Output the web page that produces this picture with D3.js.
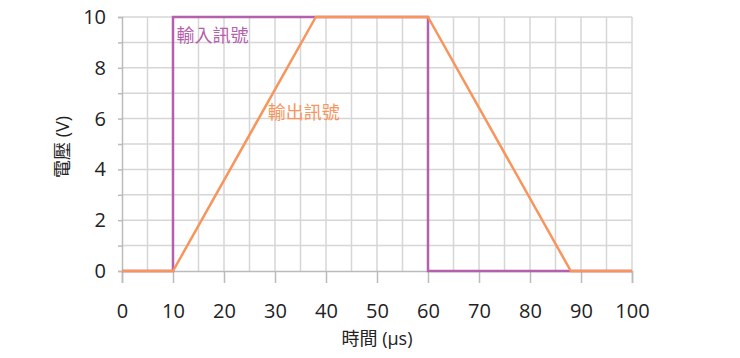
<!DOCTYPE html>
<html><head><meta charset="utf-8">
<script src="https://cdn.jsdelivr.net/npm/d3@7"></script>
<style>body{margin:0;background:#fff;}svg{display:block;}</style>
</head><body>
<svg id="c" width="740" height="358"></svg>
<script>
const inputX = [0, 10, 10, 60, 60, 100];
const inputY = [0, 0, 10, 10, 0, 0];
const outputX = [0, 10, 38, 60, 88, 100];
const outputY = [0, 0, 10, 10, 0, 0];
const xTicks = [0, 10, 20, 30, 40, 50, 60, 70, 80, 90, 100];
const yTicks = [0, 2, 4, 6, 8, 10];
const labels = ["輸入訊號", "輸出訊號"];
const xTitle = "時間 (µs)";
const yTitle = "電壓 (V)";

const svg = d3.select("#c");
const x = d3.scaleLinear().domain([0, 100]).range([122, 632]);
const y = d3.scaleLinear().domain([0, 10]).range([271, 17]);
const font = "'Open Sans','Noto Sans CJK TC',sans-serif";
const grid = "#d6d6d6";

// grid
const g = svg.append("g");
g.selectAll("line.v").data(d3.range(5, 101, 5)).join("line")
  .attr("x1", d => x(d)).attr("x2", d => x(d)).attr("y1", y(0)).attr("y2", y(10))
  .attr("stroke", grid).attr("stroke-width", 1.5);
g.selectAll("line.h").data(d3.range(1, 11, 1)).join("line")
  .attr("x1", x(0)).attr("x2", x(100)).attr("y1", d => y(d)).attr("y2", d => y(d))
  .attr("stroke", grid).attr("stroke-width", 1.5);

// axes
const xa = svg.append("g").attr("transform", `translate(0,${y(0)})`)
  .call(d3.axisBottom(x).tickValues(xTicks).tickSize(12).tickPadding(21));
xa.select(".domain").attr("stroke", "#bbb").attr("stroke-width", 1.5);
xa.selectAll(".tick line").attr("stroke", "#bbb").attr("stroke-width", 1.5);
xa.selectAll("text").attr("font-family", font).attr("font-size", 20).attr("fill", "#222");

const ya = svg.append("g").attr("transform", `translate(${x(0)},0)`)
  .call(d3.axisLeft(y).tickValues(d3.range(0, 11, 1)).tickSize(4).tickPadding(12)
    .tickFormat(d => yTicks.includes(d) ? d : ""));
ya.select(".domain").attr("stroke", "#bbb").attr("stroke-width", 1.5);
ya.selectAll(".tick line").attr("stroke", "#bbb").attr("stroke-width", 1.5);
ya.selectAll("text").attr("font-family", font).attr("font-size", 20).attr("fill", "#222");

// lines
const line = d3.line().x(d => x(d[0])).y(d => y(d[1]));
svg.append("path").datum(inputX.map((v, i) => [v, inputY[i]]))
  .attr("d", line).attr("fill", "none").attr("stroke", "#b560ad").attr("stroke-width", 2.5);
svg.append("path").datum(outputX.map((v, i) => [v, outputY[i]]))
  .attr("d", line).attr("fill", "none").attr("stroke", "#f8955c").attr("stroke-width", 2.5)
  .attr("stroke-linejoin", "round");

// labels
svg.append("text").attr("x", x(10.7)).attr("y", y(9.0)).text(labels[0])
  .attr("font-family", font).attr("font-size", 18).attr("fill", "#b560ad");
svg.append("text").attr("x", x(28.6)).attr("y", y(6.0)).text(labels[1])
  .attr("font-family", font).attr("font-size", 18).attr("fill", "#f8955c");

// titles
svg.append("text").attr("x", x(50)).attr("y", 345).attr("text-anchor", "middle")
  .text(xTitle).attr("font-family", font).attr("font-size", 18).attr("fill", "#222");
svg.append("text").attr("transform", `translate(69,${y(5) + 3}) rotate(-90)`).attr("text-anchor", "middle")
  .text(yTitle).attr("font-family", font).attr("font-size", 18).attr("fill", "#222");
</script>
</body></html>
